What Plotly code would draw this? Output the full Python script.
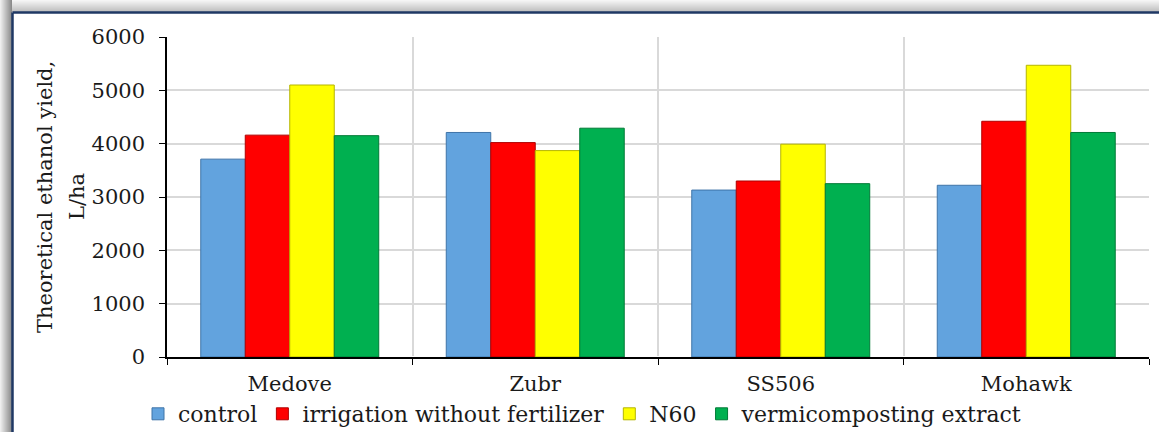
import plotly.graph_objects as go

categories = ["Medove", "Zubr", "SS506", "Mohawk"]
series_names = ["control", "irrigation without fertilizer", "N60", "vermicomposting extract"]
control = [3710, 4210, 3130, 3220]
irrigation = [4160, 4020, 3300, 4420]
n60 = [5100, 3870, 3990, 5470]
vermi = [4150, 4290, 3250, 4210]
y_ticks = [0, 1000, 2000, 3000, 4000, 5000, 6000]
y_title_lines = ["Theoretical ethanol yield,", "L/ha"]

colors = ["#62A3DE", "#FF0000", "#FFFF00", "#00B050"]
edges = ["#3F74A8", "#B00000", "#B5B500", "#007A36"]

W, H = 1159, 432
ML, MR, MT, MB = 167, 10, 37, 75
PW, PH = W - ML - MR, H - MT - MB

def xp(px):
    return (px - ML) / PW

def yp(py):
    return (H - MB - py) / PH

FONT = "DejaVu Serif"

fig = go.Figure()
for name, vals, c, e in zip(series_names, [control, irrigation, n60, vermi], colors, edges):
    fig.add_trace(go.Bar(
        x=categories, y=vals, name=name,
        marker=dict(color=c, line=dict(color=e, width=1)),
    ))

shapes = []
# gray shadow strips (gradient approximation)
for i in range(12):
    g = int(238 - i * 9)
    col = f"rgb({g},{g},{g})"
    shapes.append(dict(type="rect", xref="paper", yref="paper",
                       x0=xp(i), x1=xp(i + 1), y0=yp(H), y1=yp(0),
                       line=dict(width=0), fillcolor=col, layer="below"))
    g2 = int(245 - i * 5)
    col2 = f"rgb({g2},{g2},{g2})"
    shapes.append(dict(type="rect", xref="paper", yref="paper",
                       x0=xp(i + 1), x1=xp(W), y0=yp(i + 1), y1=yp(i),
                       line=dict(width=0), fillcolor=col2, layer="below"))
# dark blue frame lines
shapes.append(dict(type="line", xref="paper", yref="paper",
                   x0=xp(12.5), x1=xp(W), y0=yp(12.5), y1=yp(12.5),
                   line=dict(color="#1F3864", width=2.5)))
shapes.append(dict(type="line", xref="paper", yref="paper",
                   x0=xp(12.5), x1=xp(12.5), y0=yp(12.5), y1=yp(H),
                   line=dict(color="#1F3864", width=2.5)))

annotations = []
for txt, px in zip(y_title_lines, [45, 77]):
    annotations.append(dict(text=txt, textangle=-90, xref="paper", yref="paper",
                            x=xp(px), y=yp(197), xanchor="center", yanchor="middle",
                            showarrow=False, font=dict(family=FONT, size=21, color="#1a1a1a")))

fig.update_layout(
    width=W, height=H,
    margin=dict(l=ML, r=MR, t=MT, b=MB, autoexpand=False),
    paper_bgcolor="white", plot_bgcolor="white",
    barmode="group", bargap=0.275, bargroupgap=0,
    font=dict(family=FONT, size=21, color="#1a1a1a"),
    shapes=shapes,
    annotations=annotations,
    showlegend=True,
    legend=dict(orientation="h", x=xp(138), xanchor="left", y=yp(414), yanchor="middle",
                font=dict(family=FONT, size=22), bgcolor="rgba(0,0,0,0)",
                itemwidth=30, tracegroupgap=0),
    xaxis=dict(
        type="category", tickson="boundaries", ticks="outside", ticklen=6,
        tickcolor="black", showline=True, linecolor="black", linewidth=1.5,
        showgrid=True, gridcolor="#D9D9D9", gridwidth=1.5,
        tickfont=dict(family=FONT, size=21), ticklabelstandoff=7,
    ),
    yaxis=dict(
        range=[0, 6000], tickvals=y_ticks, ticks="outside", ticklen=6,
        tickcolor="black", showline=True, linecolor="black", linewidth=1.5,
        showgrid=True, gridcolor="#D9D9D9", gridwidth=1.5,
        tickfont=dict(family=FONT, size=21), ticklabelstandoff=10,
        automargin=False,
    ),
)

fig.write_html("out.html", config={"displayModeBar": False},
               post_script="document.body.style.margin='0';document.body.style.overflow='hidden';")
